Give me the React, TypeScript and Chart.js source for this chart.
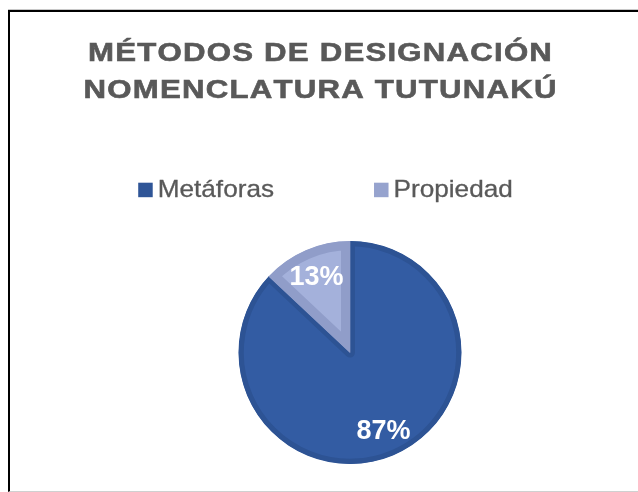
import React, { useEffect, useRef } from "react";
import { Chart, registerables } from "chart.js";

Chart.register(...registerables);

const TITLE_LINES = ["MÉTODOS DE DESIGNACIÓN", "NOMENCLATURA TUTUNAKÚ"];
const CATEGORIES = ["Metáforas", "Propiedad"];
const VALUES = [87, 13];
const FILL_COLORS = ["#335CA3", "#A4B1DB"];
const EDGE_COLORS = ["#2D5394", "#909DC9"];
const TEXT_COLOR = "#595959";
const FONT = '"Liberation Sans", Arial, sans-serif';

function spacedWidth(ctx: CanvasRenderingContext2D, text: string, spacing: number, sx: number) {
  let w = 0;
  const chars = Array.from(text);
  chars.forEach((ch, i) => {
    w += ctx.measureText(ch).width + (i < chars.length - 1 ? spacing : 0);
  });
  return w * sx;
}

function drawSpaced(ctx: CanvasRenderingContext2D, text: string, x: number, y: number, spacing: number, sx: number, stroke = 0) {
  ctx.save();
  ctx.translate(x, y);
  ctx.scale(sx, 1);
  let cx = 0;
  for (const ch of Array.from(text)) {
    ctx.fillText(ch, cx, 0);
    if (stroke > 0) {
      ctx.lineWidth = stroke;
      ctx.strokeText(ch, cx, 0);
    }
    cx += ctx.measureText(ch).width + spacing;
  }
  ctx.restore();
}

const decorPlugin = {
  id: "decor",
  afterDatasetsDraw(chart: any) {
    const ctx: CanvasRenderingContext2D = chart.ctx;
    const meta = chart.getDatasetMeta(0);
    const data = chart.data.datasets[0].data as number[];
    const total = data.reduce((a, b) => a + b, 0);
    ctx.save();
    ctx.fillStyle = "#ffffff";
    const size = 27;
    ctx.font = `bold ${size}px ${FONT}`;
    ctx.textAlign = "center";
    ctx.textBaseline = "alphabetic";
    meta.data.forEach((arc: any, i: number) => {
      const p = arc.getProps(["x", "y", "startAngle", "endAngle", "outerRadius"], true);
      const mid = (p.startAngle + p.endAngle) / 2;
      const r = p.outerRadius * 0.755;
      const x = p.x + Math.cos(mid) * r;
      const y = p.y + Math.sin(mid) * r;
      const label = `${Math.round((data[i] / total) * 100)}%`;
      ctx.fillText(label, x, y + size * 0.358);
    });
    ctx.restore();
  },
  afterDraw(chart: any) {
    const ctx: CanvasRenderingContext2D = chart.ctx;
    ctx.save();
    ctx.fillStyle = TEXT_COLOR;
    ctx.strokeStyle = TEXT_COLOR;
    ctx.textBaseline = "alphabetic";
    ctx.textAlign = "left";
    // title
    ctx.font = `bold 26px ${FONT}`;
    const tcx = chart.width / 2 - 4;
    TITLE_LINES.forEach((line, i) => {
      const w = spacedWidth(ctx, line, 1, 1.2);
      drawSpaced(ctx, line, tcx - w / 2, 49 + i * 36.5, 1, 1.2, 0.6);
    });
    // legend
    ctx.font = `24px ${FONT}`;
    const box = 14.5;
    const boxGap = 5;
    const itemGap = 100;
    const sx = 1.09;
    const labels = chart.data.labels as string[];
    const colors = chart.data.datasets[0].backgroundColor as string[];
    const legendColors = ["#2F5597", "#96A3CE"];
    const widths = labels.map((l) => box + boxGap + spacedWidth(ctx, l, 0, sx));
    const totalW = widths.reduce((a, b) => a + b, 0) + itemGap * (labels.length - 1);
    let x = chart.width / 2 + 1.5 - totalW / 2;
    const baseY = 184.7;
    labels.forEach((l, i) => {
      ctx.fillStyle = legendColors[i] || colors[i];
      ctx.fillRect(x, baseY - 14, box, box);
      ctx.fillStyle = TEXT_COLOR;
      drawSpaced(ctx, l, x + box + boxGap, baseY, 0, sx, 0.3);
      x += widths[i] + itemGap;
    });
    ctx.restore();
  },
};

export default function App() {
  const ref = useRef<HTMLCanvasElement | null>(null);
  useEffect(() => {
    document.body.style.overflow = "hidden";
    const canvas = ref.current;
    if (!canvas) return;
    const chart = new Chart(canvas, {
      type: "pie",
      data: {
        labels: CATEGORIES,
        datasets: [
          {
            data: VALUES,
            backgroundColor: FILL_COLORS,
            borderColor: EDGE_COLORS,
            borderWidth: [5, 9],
            borderAlign: "inner",
            hoverOffset: 0,
            hoverBorderWidth: 0,
            offset: 0,
          } as any,
        ],
      },
      options: {
        responsive: false,
        animation: false,
        devicePixelRatio: 1,
        events: [],
        layout: { padding: { top: 229, bottom: 27, left: 52, right: 0 } },
        plugins: {
          legend: { display: false },
          title: { display: false },
          tooltip: { enabled: false },
        },
      },
      plugins: [decorPlugin],
    });
    return () => chart.destroy();
  }, []);

  return (
    <div
      style={{
        position: "absolute",
        left: 8,
        top: 10,
        width: 628,
        height: 479,
        borderTop: "2px solid #000",
        borderLeft: "2px solid #000",
        borderBottom: "1px solid #d0d0d0",
        boxShadow: "0 -1px 0 #c8c8c8",
        background: "#fff",
      }}
    >
      <canvas ref={ref} width={628} height={479} style={{ display: "block" }} />
    </div>
  );
}
